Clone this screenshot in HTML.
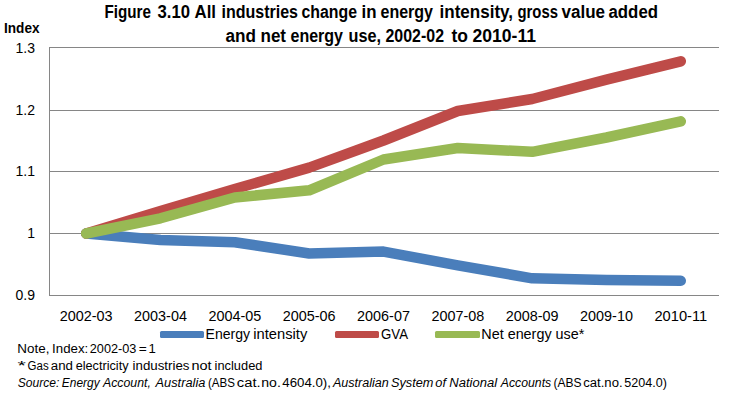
<!DOCTYPE html>
<html><head><meta charset="utf-8"><style>
html,body{margin:0;padding:0;background:#fff;width:729px;height:397px;overflow:hidden}
svg{display:block}
text{font-family:"Liberation Sans", sans-serif;fill:#000}
</style></head><body>
<svg width="729" height="397" viewBox="0 0 729 397">
<rect width="729" height="397" fill="#fff"/>

<text x="104.5" y="18" font-size="17.5" font-weight="bold" textLength="46.5" lengthAdjust="spacingAndGlyphs">Figure</text>
<text x="157.5" y="18" font-size="17.5" font-weight="bold" textLength="32.5" lengthAdjust="spacingAndGlyphs">3.10</text>
<text x="194.5" y="18" font-size="17.5" font-weight="bold" textLength="21.5" lengthAdjust="spacingAndGlyphs">All</text>
<text x="221.5" y="18" font-size="17.5" font-weight="bold" textLength="76.5" lengthAdjust="spacingAndGlyphs">industries</text>
<text x="301.5" y="18" font-size="17.5" font-weight="bold" textLength="55.5" lengthAdjust="spacingAndGlyphs">change</text>
<text x="361.5" y="18" font-size="17.5" font-weight="bold" textLength="15.0" lengthAdjust="spacingAndGlyphs">in</text>
<text x="380.5" y="18" font-size="17.5" font-weight="bold" textLength="52.5" lengthAdjust="spacingAndGlyphs">energy</text>
<text x="439.5" y="18" font-size="17.5" font-weight="bold" textLength="73.5" lengthAdjust="spacingAndGlyphs">intensity,</text>
<text x="517.5" y="18" font-size="17.5" font-weight="bold" textLength="40.5" lengthAdjust="spacingAndGlyphs">gross</text>
<text x="561.5" y="18" font-size="17.5" font-weight="bold" textLength="43.5" lengthAdjust="spacingAndGlyphs">value</text>
<text x="608.5" y="18" font-size="17.5" font-weight="bold" textLength="49.5" lengthAdjust="spacingAndGlyphs">added</text>
<text x="225.5" y="42" font-size="17.5" font-weight="bold" textLength="30.5" lengthAdjust="spacingAndGlyphs">and</text>
<text x="260.5" y="42" font-size="17.5" font-weight="bold" textLength="25.5" lengthAdjust="spacingAndGlyphs">net</text>
<text x="290.5" y="42" font-size="17.5" font-weight="bold" textLength="52.5" lengthAdjust="spacingAndGlyphs">energy</text>
<text x="348.5" y="42" font-size="17.5" font-weight="bold" textLength="32.5" lengthAdjust="spacingAndGlyphs">use,</text>
<text x="385.5" y="42" font-size="17.5" font-weight="bold" textLength="58.5" lengthAdjust="spacingAndGlyphs">2002-02</text>
<text x="451.5" y="42" font-size="17.5" font-weight="bold" textLength="16.5" lengthAdjust="spacingAndGlyphs">to</text>
<text x="472.5" y="42" font-size="17.5" font-weight="bold" textLength="63.5" lengthAdjust="spacingAndGlyphs">2010-11</text>
<text x="4" y="32.9" font-size="14.5" font-weight="bold" textLength="35.5" lengthAdjust="spacingAndGlyphs">Index</text>
<line x1="49" y1="47.5" x2="719" y2="47.5" stroke="#868686" stroke-width="1"/>
<line x1="49" y1="110.5" x2="719" y2="110.5" stroke="#868686" stroke-width="1"/>
<line x1="49" y1="171.5" x2="719" y2="171.5" stroke="#868686" stroke-width="1"/>
<line x1="49" y1="233.5" x2="719" y2="233.5" stroke="#868686" stroke-width="1"/>
<line x1="49" y1="295.5" x2="719" y2="295.5" stroke="#868686" stroke-width="1"/>
<line x1="49.5" y1="47" x2="49.5" y2="296" stroke="#868686" stroke-width="1"/>
<text x="35" y="52.7" font-size="14" text-anchor="end">1.3</text>
<text x="35" y="114.7" font-size="14" text-anchor="end">1.2</text>
<text x="35" y="175.7" font-size="14" text-anchor="end">1.1</text>
<text x="35" y="237.7" font-size="14" text-anchor="end">1</text>
<text x="35" y="299.7" font-size="14" text-anchor="end">0.9</text>
<text x="86.2" y="321" font-size="14" text-anchor="middle" textLength="52.8" lengthAdjust="spacingAndGlyphs">2002-03</text>
<text x="160.5" y="321" font-size="14" text-anchor="middle" textLength="52.8" lengthAdjust="spacingAndGlyphs">2003-04</text>
<text x="234.8" y="321" font-size="14" text-anchor="middle" textLength="52.8" lengthAdjust="spacingAndGlyphs">2004-05</text>
<text x="309.2" y="321" font-size="14" text-anchor="middle" textLength="52.8" lengthAdjust="spacingAndGlyphs">2005-06</text>
<text x="383.5" y="321" font-size="14" text-anchor="middle" textLength="52.8" lengthAdjust="spacingAndGlyphs">2006-07</text>
<text x="457.8" y="321" font-size="14" text-anchor="middle" textLength="52.8" lengthAdjust="spacingAndGlyphs">2007-08</text>
<text x="532.2" y="321" font-size="14" text-anchor="middle" textLength="52.8" lengthAdjust="spacingAndGlyphs">2008-09</text>
<text x="606.5" y="321" font-size="14" text-anchor="middle" textLength="52.8" lengthAdjust="spacingAndGlyphs">2009-10</text>
<text x="680.8" y="321" font-size="14" text-anchor="middle" textLength="52.8" lengthAdjust="spacingAndGlyphs">2010-11</text>
<polyline points="86.2,233.5 160.5,240.0 234.8,242.2 309.2,253.5 383.5,251.6 457.8,265.4 532.2,278.3 606.5,280.0 680.8,280.8" fill="none" stroke="#4A7EBB" stroke-width="10.5" stroke-linejoin="round" stroke-linecap="round"/>
<polyline points="86.2,233.5 160.5,211.1 234.8,189.0 309.2,167.6 383.5,140.5 457.8,111.0 532.2,99.0 606.5,79.6 680.8,61.3" fill="none" stroke="#BE4B48" stroke-width="10.5" stroke-linejoin="round" stroke-linecap="round"/>
<polyline points="86.2,233.5 160.5,218.3 234.8,197.5 309.2,190.3 383.5,159.5 457.8,148.0 532.2,151.8 606.5,137.5 680.8,121.3" fill="none" stroke="#98B954" stroke-width="10.5" stroke-linejoin="round" stroke-linecap="round"/>
<rect x="160" y="331" width="44" height="7" rx="1.5" fill="#4A7EBB"/>
<text x="205.6" y="339" font-size="13.8" textLength="44.5" lengthAdjust="spacingAndGlyphs">Energy</text>
<text x="253.3" y="339" font-size="13.8" textLength="54" lengthAdjust="spacingAndGlyphs">intensity</text>
<rect x="335" y="331" width="44" height="7" rx="1.5" fill="#BE4B48"/>
<text x="381" y="339" font-size="13.8" textLength="27" lengthAdjust="spacingAndGlyphs">GVA</text>
<rect x="435" y="331" width="45" height="7" rx="1.5" fill="#98B954"/>
<text x="481.3" y="339" font-size="13.8" textLength="103" lengthAdjust="spacingAndGlyphs">Net energy use*</text>
<text x="17.33" y="353" font-size="12" textLength="32.08" lengthAdjust="spacingAndGlyphs">Note,</text>
<text x="52.07" y="353" font-size="12" textLength="36.17" lengthAdjust="spacingAndGlyphs">Index:</text>
<text x="89.78" y="353" font-size="12" textLength="46.67" lengthAdjust="spacingAndGlyphs">2002-03</text>
<text x="138.68" y="353" font-size="12" textLength="8.02" lengthAdjust="spacingAndGlyphs">=</text>
<text x="148.42" y="353" font-size="12" textLength="7.33" lengthAdjust="spacingAndGlyphs">1</text>
<text x="17.46" y="370" font-size="12" textLength="8.34" lengthAdjust="spacingAndGlyphs">*</text>
<text x="27.59" y="370" font-size="12" textLength="21.06" lengthAdjust="spacingAndGlyphs">Gas</text>
<text x="50.75" y="370" font-size="12" textLength="22.17" lengthAdjust="spacingAndGlyphs">and</text>
<text x="75.70" y="370" font-size="12" textLength="52.87" lengthAdjust="spacingAndGlyphs">electricity</text>
<text x="132.57" y="370" font-size="12" textLength="56.87" lengthAdjust="spacingAndGlyphs">industries</text>
<text x="191.51" y="370" font-size="12" textLength="20.15" lengthAdjust="spacingAndGlyphs">not</text>
<text x="214.62" y="370" font-size="12" textLength="47.82" lengthAdjust="spacingAndGlyphs">included</text>
<text x="17.69" y="387" font-size="12" font-style="italic" textLength="41.61" lengthAdjust="spacingAndGlyphs">Source:</text>
<text x="61.84" y="387" font-size="12" font-style="italic" textLength="37.78" lengthAdjust="spacingAndGlyphs">Energy</text>
<text x="102.96" y="387" font-size="12" font-style="italic" textLength="47.88" lengthAdjust="spacingAndGlyphs">Account,</text>
<text x="155.55" y="387" font-size="12" font-style="italic" textLength="49.81" lengthAdjust="spacingAndGlyphs">Australia</text>
<text x="208.02" y="387" font-size="12" textLength="26.98" lengthAdjust="spacingAndGlyphs">(ABS</text>
<text x="236.82" y="387" font-size="12" textLength="23.81" lengthAdjust="spacingAndGlyphs">cat.</text>
<text x="261.29" y="387" font-size="12" textLength="19.57" lengthAdjust="spacingAndGlyphs">no.</text>
<text x="282.35" y="387" font-size="12" textLength="48.60" lengthAdjust="spacingAndGlyphs">4604.0),</text>
<text x="332.99" y="387" font-size="12" font-style="italic" textLength="55.82" lengthAdjust="spacingAndGlyphs">Australian</text>
<text x="391.03" y="387" font-size="12" font-style="italic" textLength="42.42" lengthAdjust="spacingAndGlyphs">System</text>
<text x="435.32" y="387" font-size="12" font-style="italic" textLength="10.71" lengthAdjust="spacingAndGlyphs">of</text>
<text x="449.34" y="387" font-size="12" font-style="italic" textLength="47.77" lengthAdjust="spacingAndGlyphs">National</text>
<text x="500.80" y="387" font-size="12" font-style="italic" textLength="50.41" lengthAdjust="spacingAndGlyphs">Accounts</text>
<text x="553.60" y="387" font-size="12" textLength="28.05" lengthAdjust="spacingAndGlyphs">(ABS</text>
<text x="583.23" y="387" font-size="12" textLength="39.39" lengthAdjust="spacingAndGlyphs">cat.no.</text>
<text x="624.27" y="387" font-size="12" textLength="42.56" lengthAdjust="spacingAndGlyphs">5204.0)</text>
</svg></body></html>
